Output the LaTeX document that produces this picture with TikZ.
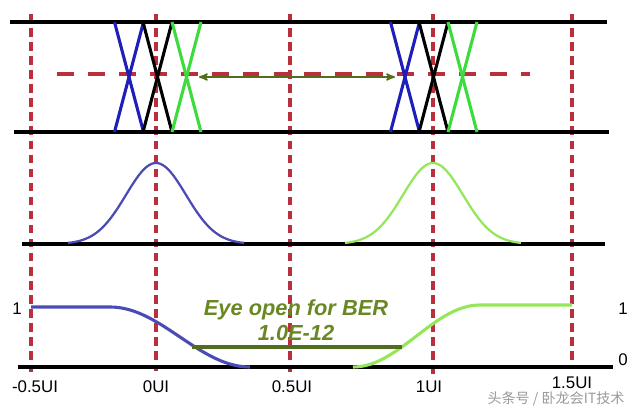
\documentclass[tikz,border=0pt]{standalone}
\usepackage{fontspec}
\setmainfont{Liberation Sans}
\newfontfamily\cjkfont{Noto Sans CJK SC}
\usetikzlibrary{arrows}
\definecolor{uired}{RGB}{185,48,60}
\definecolor{xblue}{RGB}{30,30,185}
\definecolor{gblue}{RGB}{75,75,180}
\definecolor{xgreen}{RGB}{60,220,60}
\definecolor{ggreen}{RGB}{150,230,90}
\definecolor{olive}{RGB}{105,135,35}
\definecolor{darkolive}{RGB}{80,110,30}
\tikzstyle{rail} = [black,line width=2.8pt]
\tikzstyle{uiline} = [uired,line width=2.4pt,dash pattern=on 6pt off 4pt]
\tikzstyle{midline} = [uired,line width=2.4pt,dash pattern=on 12pt off 10pt]
\tikzstyle{cross} = [line width=2.2pt]
\tikzstyle{jitter} = [line width=1.6pt]
\tikzstyle{edge} = [line width=2.2pt]
\tikzstyle{tick} = [font=\fontsize{12}{14}\selectfont,inner sep=0pt]
\tikzstyle{eyetext} = [olive,align=center,font=\fontsize{15.5}{18}\selectfont\bfseries\itshape]
\tikzstyle{wmark} = [black!40,font=\cjkfont\fontsize{10}{12}\selectfont,inner sep=0pt]

\begin{document}
\begin{tikzpicture}[x=0.025cm, y=-0.025cm, >=stealth']
    \useasboundingbox (0,0) rectangle (640,409);

    % unit interval markers
    \foreach \name/\x/\yend in {ma/31/372, mb/156/371, mc/290/372, md/433/375, me/572/366} {
      \coordinate (\name) at (\x,14);
      \draw[uiline] (\name) -- (\x,\yend);
    }

    % eye diagram
    \draw[rail] (10,22) -- (607,22);
    \draw[rail] (14,132) -- (609,132);
    \coordinate (thL) at (57,74);
    \coordinate (thR) at (530,74);
    \draw[midline] (thL) -- (thR);
    \foreach \x/\c in {129/xblue, 157.5/black, 186.5/xgreen,
                       405/xblue, 433.5/black, 462.5/xgreen} {
      \draw[cross,\c] (\x-14.5,22) -- (\x+14.5,132);
      \draw[cross,\c] (\x+14.5,22) -- (\x-14.5,132);
    }
    \coordinate (openL) at (199,77);
    \coordinate (openR) at (395,77);
    \draw[<->,darkolive,line width=1.2pt] (openL) -- (openR);

    % jitter distributions
    \draw[rail] (22,244) -- (605,244);
    \draw[jitter,gblue] plot[domain=-88:88,samples=70]
      ({156+\x},{244-81*exp(-(\x*\x)/1800)});
    \draw[jitter,ggreen] plot[domain=-88:88,samples=70]
      ({433+\x},{244-81*exp(-(\x*\x)/1800)});

    % bit error curves
    \draw[rail] (18,367) -- (613,367);
    \draw[edge,gblue] (31,307) -- (110,307)
      -- plot[domain=0:1,samples=40] ({110+140*\x},{307+30*(1-cos(180*\x))});
    \draw[edge,ggreen] plot[domain=0:1,samples=40]
      ({353+127*\x},{367-31*(1-cos(180*\x))}) -- (572,305);
    \coordinate (berL) at (192,347);
    \coordinate (berR) at (402,347);
    \draw[darkolive,line width=2.6pt] (berL) -- (berR);
    \node[eyetext] (eye) at (296,320) {Eye open for BER\\1.0E-12};

    % labels
    \node[tick] (one l) at (17,309) {1};
    \node[tick] (one r) at (623,309) {1};
    \node[tick] (zero r) at (623,360) {0};
    \node[tick] (la) at (35,387) {-0.5UI};
    \node[tick] (lb) at (156,387) {0UI};
    \node[tick] (lc) at (292,387) {0.5UI};
    \node[tick] (ld) at (429,387) {1UI};
    \node[tick] (le) at (572,383) {1.5UI};
    \node[wmark] (wm) at (556,399) {头条号 / 卧龙会IT技术};
\end{tikzpicture}
\end{document}
